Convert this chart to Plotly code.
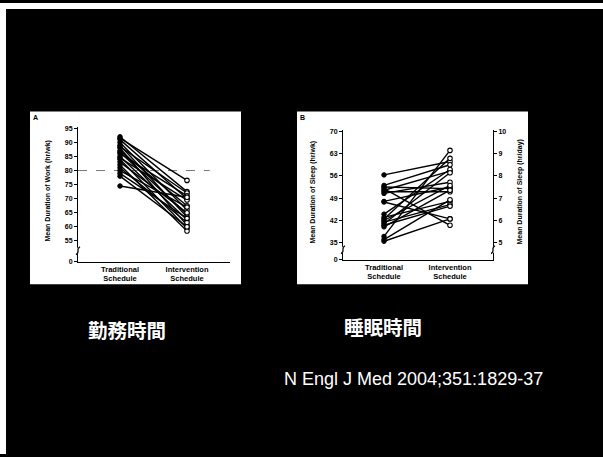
import plotly.graph_objects as go

W, H = 603, 457

# ---- Panel A: mean duration of work (hr/wk), one pair per intern ----
work_traditional = [92, 91.5, 91, 90, 89, 88.5, 88, 87, 86.5, 86,
                    85, 84.5, 84, 83, 82, 81, 80, 79, 78, 74.5]
work_intervention = [72.5, 76.5, 70, 66, 63.5, 72, 60.5, 67.5, 64.5, 71,
                     62.5, 69.5, 59.5, 65, 58.5, 61.5, 67, 63, 60, 70.5]
work_ticks = [55, 60, 65, 70, 75, 80, 85, 90, 95]
work_limit = 80

# ---- Panel B: mean duration of sleep (hr/wk) ----
sleep_traditional = [56.3, 53, 52.5, 52, 51.5, 51, 50.5, 48, 47.8, 44,
                     43, 42.5, 42, 41.5, 41, 40.5, 40, 37, 36, 35.5]
sleep_intervention = [60.5, 59.5, 52, 40.5, 57.5, 51, 54, 52.5, 42.5, 58,
                      48, 61.5, 53, 47, 57, 46.5, 51.5, 64, 48.5, 42.5]
sleep_ticks_wk = [35, 42, 49, 56, 63, 70]
sleep_ticks_day = [5, 6, 7, 8, 9, 10]

schedules = ["Traditional<br>Schedule", "Intervention<br>Schedule"]
captions = ["勤務時間", "睡眠時間"]
citation = "N Engl J Med 2004;351:1829-37"


def px(x):
    return x / W


def py(y):
    return 1 - y / H


# broken-axis bottoms (value drawn where the "0" label sits)
work_bottom = 55 - 21 / 2.85
sleep_bottom = 35 - 17 / (113 / 35)

fig = go.Figure()


def add_pairs(before, after, xa, ya):
    lx, ly = [], []
    for a, b in zip(before, after):
        lx += [0, 1, None]
        ly += [a, b, None]
    fig.add_trace(go.Scatter(x=lx, y=ly, mode="lines", xaxis=xa, yaxis=ya,
                             line=dict(color="black", width=1.4),
                             hoverinfo="skip", showlegend=False))
    fig.add_trace(go.Scatter(x=[0] * len(before), y=before, mode="markers",
                             xaxis=xa, yaxis=ya, showlegend=False,
                             marker=dict(size=4.5, color="black",
                                         line=dict(color="black", width=1))))
    fig.add_trace(go.Scatter(x=[1] * len(after), y=after, mode="markers",
                             xaxis=xa, yaxis=ya, showlegend=False,
                             marker=dict(size=4.5, color="white",
                                         line=dict(color="black", width=1.1))))


add_pairs(work_traditional, work_intervention, "x", "y")
add_pairs(sleep_traditional, sleep_intervention, "x2", "y2")
# hr/day scale for the right-hand axis of panel B
fig.add_trace(go.Scatter(x=[0, 1], y=[v / 7 for v in sleep_ticks_day[:2]],
                         xaxis="x2", yaxis="y3", mode="markers",
                         marker=dict(opacity=0), hoverinfo="skip",
                         showlegend=False))

tickfont = dict(family="Liberation Sans", size=7, color="black", weight="bold")
xfont = dict(family="Liberation Sans", size=7.5, color="black", weight="bold")

common_x = dict(tickmode="array", tickvals=[0, 1], ticktext=schedules,
                showgrid=False, zeroline=False, showline=True,
                linecolor="black", linewidth=1.2, ticks="",
                tickfont=xfont, ticklabelstandoff=0, fixedrange=True)
common_y = dict(showgrid=False, zeroline=False, showline=True,
                linecolor="black", linewidth=1, ticks="outside",
                ticklen=3, tickcolor="black", tickwidth=1,
                tickfont=tickfont, fixedrange=True)

fig.update_layout(
    width=W, height=H,
    margin=dict(l=0, r=0, t=0, b=0),
    paper_bgcolor="black", plot_bgcolor="rgba(0,0,0,0)",
    xaxis=dict(domain=[px(78), px(230)],
               range=[-42 / 67, 1 + 43 / 67], anchor="y", **common_x),
    yaxis=dict(domain=[py(262), py(125.6)], range=[work_bottom, 95.5],
               anchor="x", tickmode="array",
               tickvals=[work_bottom] + work_ticks,
               ticktext=["0"] + [str(t) for t in work_ticks], **common_y),
    xaxis2=dict(domain=[px(343), px(493)],
                range=[-41 / 66, 1 + 43 / 66], anchor="y2", **common_x),
    yaxis2=dict(domain=[py(260), py(129)], range=[sleep_bottom, 70.3],
                anchor="x2", tickmode="array",
                tickvals=[sleep_bottom] + sleep_ticks_wk,
                ticktext=["0"] + [str(t) for t in sleep_ticks_wk], **common_y),
    yaxis3=dict(domain=[py(260), py(129)],
                range=[sleep_bottom / 7, 70.3 / 7], anchor="x2",
                overlaying="y2", side="right", tickmode="array",
                tickvals=sleep_ticks_day,
                ticktext=[str(t) for t in sleep_ticks_day], **common_y),
)

shapes = [
    # white margins along the top and left edges
    dict(type="rect", xref="paper", yref="paper", x0=0, x1=1,
         y0=py(6), y1=1, fillcolor="white", line_width=0, layer="below"),
    dict(type="rect", xref="paper", yref="paper", x0=0, x1=px(6),
         y0=0, y1=1, fillcolor="white", line_width=0, layer="below"),
    # white panel cards
    dict(type="rect", xref="paper", yref="paper", x0=px(30), x1=px(241),
         y0=py(285), y1=py(110), fillcolor="white", line_width=0,
         layer="below"),
    dict(type="rect", xref="paper", yref="paper", x0=px(297), x1=px(528),
         y0=py(285), y1=py(110), fillcolor="white", line_width=0,
         layer="below"),
    # 80 hr/wk reference line
    dict(type="line", xref="x", yref="y", x0=-42 / 67, x1=1.34,
         y0=work_limit, y1=work_limit,
         line=dict(color="#777777", width=1, dash="dash"), layer="below"),
]


def axis_break(xp, yp):
    # small squiggle marking the broken value axis
    pts = [(xp - 2, yp + 4), (xp + 3, yp + 1), (xp - 3, yp - 1), (xp + 2, yp - 4)]
    path = "M {} {} C {} {} {} {} {} {}".format(
        px(pts[0][0]), py(pts[0][1]), px(pts[1][0]), py(pts[1][1]),
        px(pts[2][0]), py(pts[2][1]), px(pts[3][0]), py(pts[3][1]))
    return [dict(type="rect", xref="paper", yref="paper",
                 x0=px(xp - 3), x1=px(xp + 3), y0=py(yp + 3), y1=py(yp - 3),
                 fillcolor="white", line_width=0),
            dict(type="path", xref="paper", yref="paper", path=path,
                 line=dict(color="black", width=1.2))]


for bx, by in [(78, 251), (343, 250), (493, 250)]:
    shapes += axis_break(bx, by)

fig.update_layout(shapes=shapes)

label_font = dict(family="Liberation Sans", size=7, color="black", weight="bold")
annotations = [
    dict(text="A", x=px(35), y=py(116), showarrow=False, font=label_font),
    dict(text="B", x=px(302), y=py(116), showarrow=False, font=label_font),
    dict(text="Mean Duration of Work (hr/wk)", x=px(48), y=py(191),
         textangle=-90, showarrow=False, font=label_font),
    dict(text="Mean Duration of Sleep (hr/wk)", x=px(313), y=py(192),
         textangle=-90, showarrow=False, font=label_font),
    dict(text="Mean Duration of Sleep (hr/day)", x=px(520), y=py(192),
         textangle=-90, showarrow=False, font=label_font),
    dict(text="<b>" + captions[0] + "</b>", x=px(127), y=py(331),
         showarrow=False,
         font=dict(family="Noto Sans CJK JP", size=19.5, color="white")),
    dict(text="<b>" + captions[1] + "</b>", x=px(383), y=py(328),
         showarrow=False,
         font=dict(family="Noto Sans CJK JP", size=19.5, color="white")),
    dict(text=citation, x=px(413), y=py(381), showarrow=False,
         font=dict(family="Liberation Sans", size=18, color="white")),
]
for a in annotations:
    a.update(xref="paper", yref="paper", xanchor="center", yanchor="middle")
fig.update_layout(annotations=annotations)

page_style = (
    "document.documentElement.style.background='black';"
    "document.body.style.background='black';"
    "document.body.style.margin='0';"
    "document.body.style.overflow='hidden';"
)
fig.write_html("out.html", config={"displayModeBar": False},
               post_script=page_style)
